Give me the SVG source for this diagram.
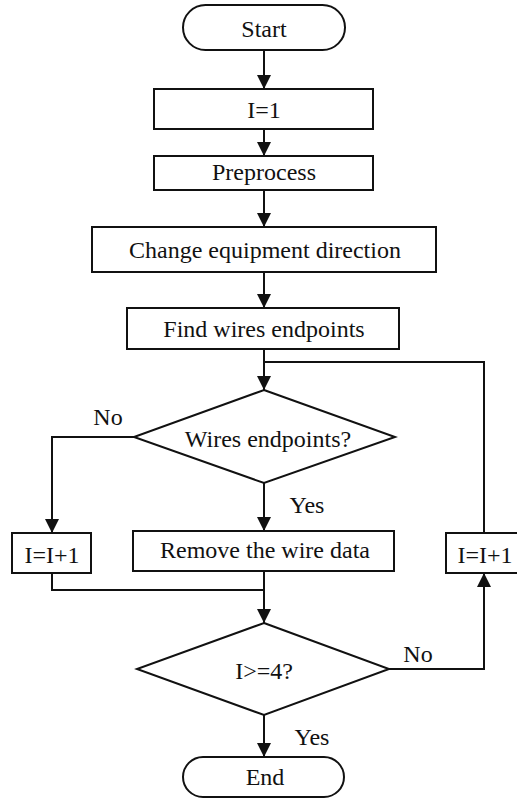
<svg xmlns="http://www.w3.org/2000/svg" width="517" height="798" viewBox="0 0 517 798" font-family="Liberation Serif, Times New Roman, DejaVu Serif, serif">
<style>
.s{fill:#fff;stroke:#111;stroke-width:2}
.c{fill:none;stroke:#111;stroke-width:2}
.t{font-size:24px;fill:#111;text-anchor:middle}
</style>
<defs>
<marker id="a" markerUnits="userSpaceOnUse" markerWidth="14" markerHeight="14" refX="14" refY="7" orient="auto">
<path d="M0,0 L14,7 L0,14 z" fill="#111"/>
</marker>
</defs>
<g id="connectors">
<line class="c" x1="264" y1="50" x2="264" y2="89" marker-end="url(#a)"/>
<line class="c" x1="264" y1="129" x2="264" y2="156" marker-end="url(#a)"/>
<line class="c" x1="264" y1="190" x2="264" y2="227" marker-end="url(#a)"/>
<line class="c" x1="264" y1="272" x2="264" y2="308" marker-end="url(#a)"/>
<line class="c" x1="264" y1="349" x2="264" y2="390" marker-end="url(#a)"/>
<polyline class="c" points="484,533 484,362 264,362"/>
<polyline class="c" points="134,437 52,437 52,533" marker-end="url(#a)"/>
<line class="c" x1="264" y1="483" x2="264" y2="531" marker-end="url(#a)"/>
<polyline class="c" points="52,573 52,590 264,590"/>
<line class="c" x1="264" y1="571" x2="264" y2="623" marker-end="url(#a)"/>
<polyline class="c" points="389,669 484,669 484,573" marker-end="url(#a)"/>
<line class="c" x1="264" y1="715" x2="264" y2="757" marker-end="url(#a)"/>
<text class="t" x="108" y="425">No</text>
<text class="t" x="307" y="513">Yes</text>
<text class="t" x="418" y="662">No</text>
<text class="t" x="312" y="745">Yes</text>
</g>
<g id="start"><rect class="s" x="183" y="5" width="162" height="45" rx="22.5"/><text class="t" x="264" y="37">Start</text></g>
<g id="init"><rect class="s" x="154" y="89" width="219" height="40"/><text class="t" x="264" y="118">I=1</text></g>
<g id="preprocess"><rect class="s" x="154" y="156" width="219" height="34"/><text class="t" x="264" y="180">Preprocess</text></g>
<g id="change"><rect class="s" x="92" y="227" width="344" height="45"/><text class="t" x="265" y="258">Change equipment direction</text></g>
<g id="find"><rect class="s" x="127" y="308" width="272" height="41"/><text class="t" x="264" y="337">Find wires endpoints</text></g>
<g id="decision1"><polygon class="s" points="264,390 395,437 264,483 134,437"/><text class="t" x="268" y="447">Wires endpoints?</text></g>
<g id="incLeft"><rect class="s" x="12" y="533" width="79" height="40"/><text class="t" x="52" y="563">I=I+1</text></g>
<g id="remove"><rect class="s" x="133" y="531" width="261" height="40"/><text class="t" x="265" y="558">Remove the wire data</text></g>
<g id="incRight"><rect class="s" x="446" y="533" width="76" height="40"/><text class="t" x="485" y="563">I=I+1</text></g>
<g id="decision2"><polygon class="s" points="264,623 389,669 264,715 137,669"/><text class="t" x="264" y="679">I&gt;=4?</text></g>
<g id="end"><rect class="s" x="183" y="757" width="161" height="40" rx="20"/><text class="t" x="265" y="785">End</text></g>
</svg>
